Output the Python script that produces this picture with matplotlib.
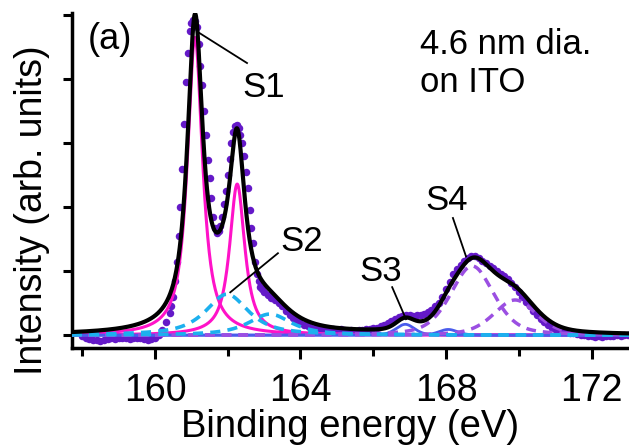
import numpy as np
import matplotlib
matplotlib.use("Agg")
import matplotlib.pyplot as plt

plt.rcParams['font.family'] = ['Liberation Sans', 'DejaVu Sans']

# measured spectrum (binding energy in eV, intensity in arb. units)
be_low = np.round(np.arange(158.0, 160.41, 0.1), 2)
int_low = [-0.02, -0.04, -0.06, -0.07, -0.08, -0.09, -0.07, -0.06, -0.05, -0.06,
           -0.05, -0.04, -0.05, -0.06, -0.05, -0.04, -0.05, -0.06, -0.07, -0.06,
           -0.04, 0.00, 0.08, 0.20, 0.35]

be_peak = np.round(np.arange(160.45, 162.96, 0.05), 2)
int_peak = [0.45, 0.60, 0.85, 1.15, 1.55, 2.00, 2.60, 3.30, 3.95, 4.40,
            4.75, 4.88, 4.92, 4.90, 4.82, 4.55, 4.20, 3.90, 3.50, 3.13,
            2.73, 2.45, 2.15, 1.85, 1.68, 1.60, 1.62, 1.70, 1.85, 2.05,
            2.25, 2.50, 2.75, 3.00, 3.18, 3.27, 3.29, 3.23, 3.12, 3.00,
            2.80, 2.55, 2.30, 1.95, 1.68, 1.44, 1.15, 0.95, 0.85, 0.76,
            0.72]

be_high = np.round(np.arange(163.0, 173.01, 0.1), 2)
int_high = [0.68, 0.62, 0.58, 0.55, 0.50, 0.45, 0.38, 0.32, 0.27, 0.22,
            0.19, 0.16, 0.14, 0.12, 0.11, 0.10, 0.10, 0.09, 0.10, 0.09,
            0.08, 0.09, 0.08, 0.07, 0.08, 0.07, 0.08, 0.08, 0.09, 0.10,
            0.11, 0.12, 0.14, 0.16, 0.19, 0.22, 0.25, 0.28, 0.30, 0.31,
            0.31, 0.30, 0.31, 0.32, 0.33, 0.36, 0.40, 0.45, 0.50, 0.60,
            0.72, 0.83, 0.95, 1.04, 1.10, 1.16, 1.21, 1.24, 1.23, 1.20,
            1.16, 1.12, 1.08, 1.05, 1.00, 0.96, 0.92, 0.88, 0.82, 0.75,
            0.68, 0.60, 0.52, 0.45, 0.38, 0.31, 0.25, 0.20, 0.16, 0.12,
            0.10, 0.08, 0.06, 0.05, 0.04, 0.03, 0.02, 0.01, 0.00, -0.01,
            -0.02, -0.03, -0.02, -0.03, -0.01, -0.02, -0.01, 0.00, -0.01, 0.00,
            0.00]

# fitted doublet components: centre, height, fwhm, lorentz fraction
s1_centers = [161.10, 162.26]
s1_heights = [4.65, 2.36]
s2_centers = [161.98, 163.16]
s2_heights = [0.64, 0.33]
s3_centers = [166.88, 168.06]
s3_heights = [0.17, 0.09]
s4_centers = [168.72, 169.90]
s4_heights = [1.08, 0.55]
fwhm = {'S1': 0.5, 'S2': 1.4, 'S3': 0.6, 'S4': 1.4}
eta = {'S1': 0.9, 'S2': 0.8, 'S3': 0.3, 'S4': 0.4}


def pvoigt(x, c, h, w, m):
    lor = 1 / (1 + ((x - c) / (w / 2)) ** 2)
    gau = np.exp(-4 * np.log(2) * ((x - c) / w) ** 2)
    return h * (m * lor + (1 - m) * gau)


be = np.concatenate([be_low, be_peak, be_high])
intensity = np.concatenate([int_low, int_peak, int_high])

fig = plt.figure(figsize=(6.29, 4.46), dpi=100)
ax = fig.add_axes([0.1145, 0.2197, 0.8855, 0.751])

xf = np.linspace(157.7, 173.1, 1500)
ax.plot(be, intensity, 'o', color='#6419c8', ms=5.4, mec='none', zorder=2)

styles = {
    'S1': dict(color='#ff12c8', lw=2.2, ls='-'),
    'S3': dict(color='#4a5cec', lw=2.0, ls='-'),
    'S4': dict(color='#9b4fe2', lw=2.5, ls=(0, (2.8, 2.0))),
    'S2': dict(color='#1cb0ee', lw=2.6, ls=(0, (2.8, 2.0))),
}
comps = {'S1': (s1_centers, s1_heights), 'S2': (s2_centers, s2_heights),
         'S3': (s3_centers, s3_heights), 'S4': (s4_centers, s4_heights)}
envelope = np.zeros_like(xf)
for name in ['S1', 'S3', 'S4', 'S2']:
    cs, hs = comps[name]
    for c, h in zip(cs, hs):
        y = pvoigt(xf, c, h, fwhm[name], eta[name])
        envelope += y
        ax.plot(xf, y, zorder=3, **styles[name])

ax.plot(xf, envelope, color='black', lw=3.0, zorder=4)

ax.set_xlim(157.72, 173.03)
ax.set_ylim(-0.2, 5.03)
for s in ['top', 'right']:
    ax.spines[s].set_visible(False)
for s in ['left', 'bottom']:
    ax.spines[s].set_linewidth(2.5)

ax.set_xticks([160, 164, 168, 172])
ax.set_xticks([158, 162, 166, 170], minor=True)
ax.set_yticks([0, 1, 2, 3, 4, 5])
ax.set_yticklabels([])
ax.tick_params(axis='x', which='major', length=8, width=2.2, direction='out',
               labelsize=27, pad=10)
ax.tick_params(axis='x', which='minor', length=5.5, width=2.2, direction='out')
ax.tick_params(axis='y', length=6.5, width=2.2, direction='out')

ax.set_xlabel('Binding energy (eV)', fontsize=27.5, labelpad=0)
ax.set_ylabel('Intensity (arb. units)', fontsize=27)
ax.yaxis.set_label_coords(-0.04, 0.41)

ax.text(158.16, 4.61, '(a)', fontsize=26, ha='left', va='center')
ax.text(167.29, 4.8, '4.6 nm dia.\non ITO', fontsize=25, ha='left', va='top',
        linespacing=1.2)

labels = ['S1', 'S2', 'S3', 'S4']
label_xy = [(163.0, 3.86), (164.02, 1.47), (166.21, 1.0), (168.03, 2.11)]
line_from = [(162.53, 4.25), (163.38, 1.28), (166.52, 0.75), (168.19, 1.83)]
line_to = [(161.19, 4.73), (162.07, 0.67), (166.9, 0.25), (168.55, 1.23)]
for lab, (tx, ty), (x0, y0), (x1, y1) in zip(labels, label_xy, line_from, line_to):
    ax.text(tx, ty, lab, fontsize=25, ha='center', va='center')
    ax.plot([x0, x1], [y0, y1], color='black', lw=1.3, zorder=5)

fig.savefig('out.png', dpi=100)
